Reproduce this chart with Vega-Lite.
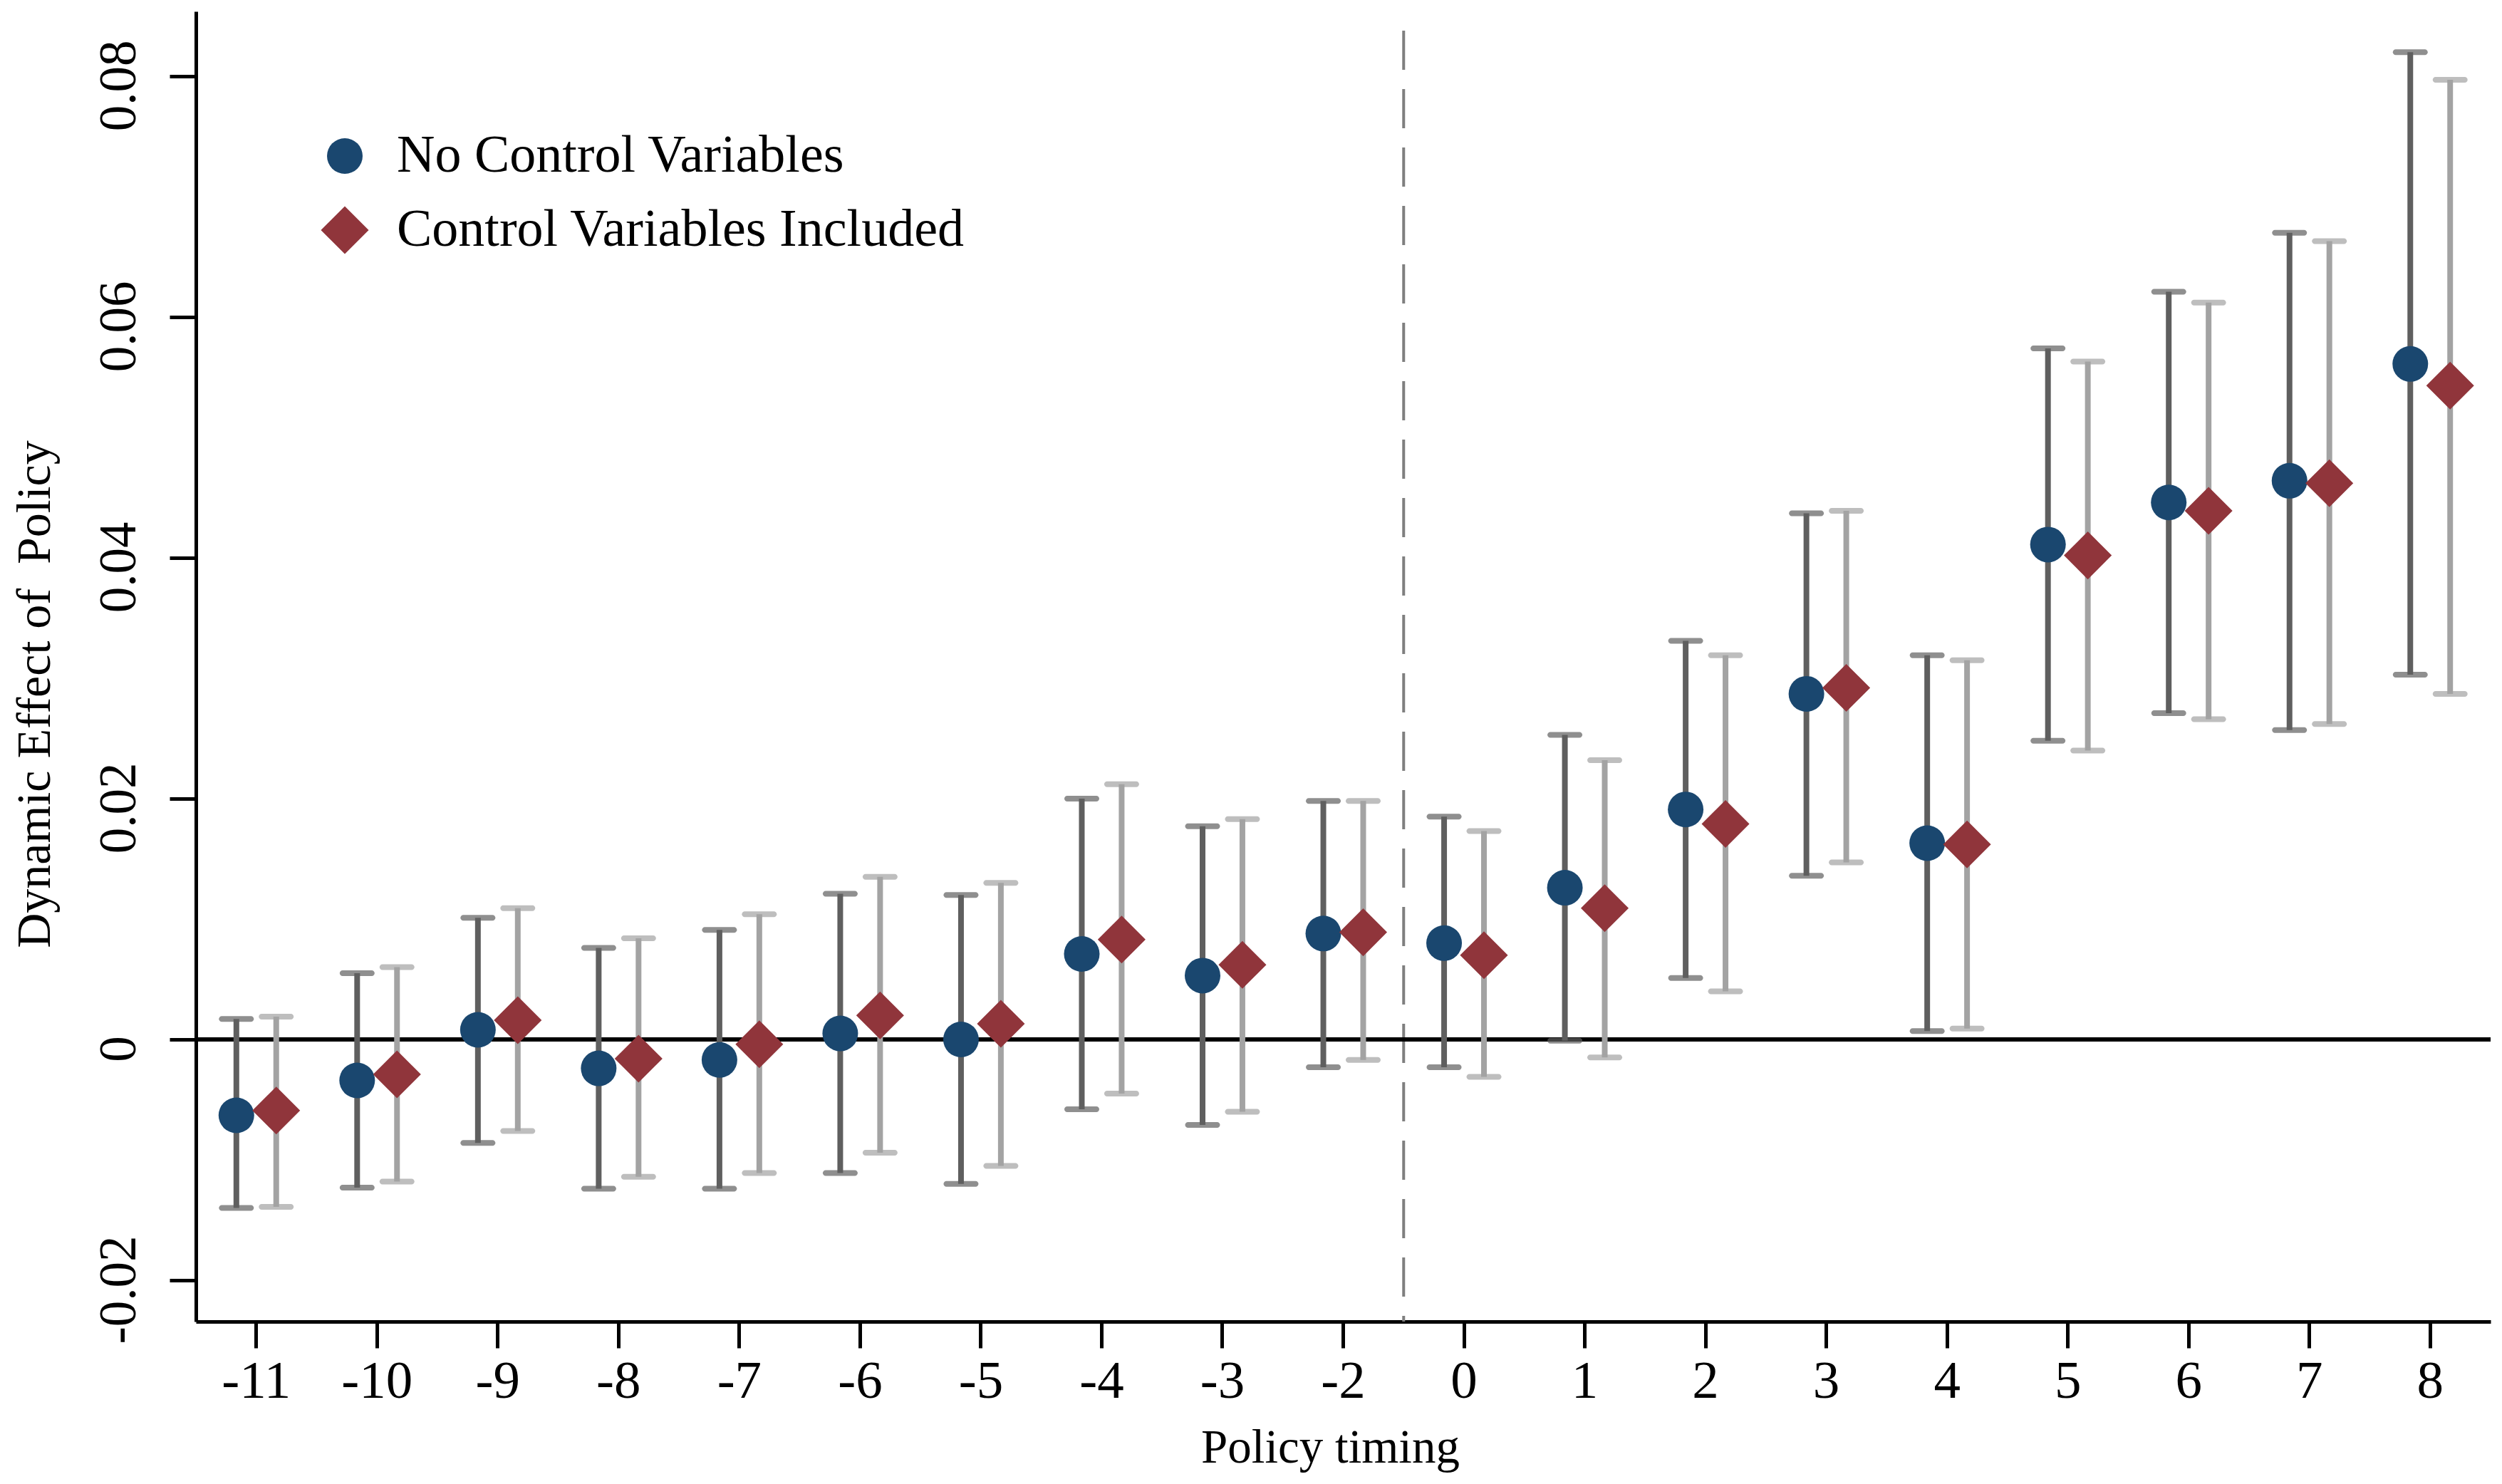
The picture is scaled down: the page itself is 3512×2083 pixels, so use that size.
{
  "$schema": "https://vega.github.io/schema/vega-lite/v6.json",
  "width": 3221,
  "height": 1839,
  "autosize": {"type": "none"},
  "padding": {"left": 275, "top": 16, "right": 16, "bottom": 228},
  "background": "white",
  "config": {
    "view": {"stroke": null},
    "axis": {"domainColor": "black", "tickColor": "black", "labelColor": "black", "titleColor": "black", "grid": false, "labelFont": "Liberation Serif", "titleFont": "Liberation Serif", "titleFontWeight": "normal", "domainWidth": 5, "tickWidth": 5},
    "legend": {"labelFont": "Liberation Serif", "labelFontSize": 74, "labelColor": "black", "labelLimit": 0, "padding": 0, "symbolStrokeWidth": 0, "rowPadding": 30, "labelOffset": 36}
  },
  "layer": [
    {
      "data": {"values": [{}]},
      "mark": {"type": "rule", "color": "#7f7f7f", "strokeWidth": 4, "strokeDash": [55, 27], "strokeDashOffset": 55},
      "encoding": {"x": {"datum": 0, "type": "ordinal", "bandPosition": 0}}
    },
    {
      "data": {"values": [{}]},
      "mark": {"type": "rule", "color": "black", "strokeWidth": 6},
      "encoding": {"y": {"datum": 0, "type": "quantitative"}}
    },
    {
      "data": {"values": [
        {"t": -11, "model": "No Control Variables", "est": -0.0063, "lo": -0.0140, "hi": 0.0017},
        {"t": -10, "model": "No Control Variables", "est": -0.0034, "lo": -0.0123, "hi": 0.0055},
        {"t": -9, "model": "No Control Variables", "est": 0.0008, "lo": -0.0086, "hi": 0.0101},
        {"t": -8, "model": "No Control Variables", "est": -0.0024, "lo": -0.0124, "hi": 0.0076},
        {"t": -7, "model": "No Control Variables", "est": -0.0017, "lo": -0.0124, "hi": 0.0091},
        {"t": -6, "model": "No Control Variables", "est": 0.0005, "lo": -0.0111, "hi": 0.0121},
        {"t": -5, "model": "No Control Variables", "est": 0.0000, "lo": -0.0120, "hi": 0.0120},
        {"t": -4, "model": "No Control Variables", "est": 0.0071, "lo": -0.0058, "hi": 0.0200},
        {"t": -3, "model": "No Control Variables", "est": 0.0053, "lo": -0.0071, "hi": 0.0177},
        {"t": -2, "model": "No Control Variables", "est": 0.0088, "lo": -0.0023, "hi": 0.0198},
        {"t": 0, "model": "No Control Variables", "est": 0.0080, "lo": -0.0023, "hi": 0.0185},
        {"t": 1, "model": "No Control Variables", "est": 0.0126, "lo": -0.0001, "hi": 0.0253},
        {"t": 2, "model": "No Control Variables", "est": 0.0191, "lo": 0.0051, "hi": 0.0331},
        {"t": 3, "model": "No Control Variables", "est": 0.0287, "lo": 0.0136, "hi": 0.0437},
        {"t": 4, "model": "No Control Variables", "est": 0.0163, "lo": 0.0007, "hi": 0.0319},
        {"t": 5, "model": "No Control Variables", "est": 0.0411, "lo": 0.0248, "hi": 0.0574},
        {"t": 6, "model": "No Control Variables", "est": 0.0446, "lo": 0.0271, "hi": 0.0621},
        {"t": 7, "model": "No Control Variables", "est": 0.0464, "lo": 0.0257, "hi": 0.0670},
        {"t": 8, "model": "No Control Variables", "est": 0.0561, "lo": 0.0303, "hi": 0.0820},
        {"t": -11, "model": "Control Variables Included", "est": -0.0059, "lo": -0.0139, "hi": 0.0019},
        {"t": -10, "model": "Control Variables Included", "est": -0.0029, "lo": -0.0118, "hi": 0.0060},
        {"t": -9, "model": "Control Variables Included", "est": 0.0016, "lo": -0.0076, "hi": 0.0109},
        {"t": -8, "model": "Control Variables Included", "est": -0.0016, "lo": -0.0114, "hi": 0.0084},
        {"t": -7, "model": "Control Variables Included", "est": -0.0004, "lo": -0.0111, "hi": 0.0104},
        {"t": -6, "model": "Control Variables Included", "est": 0.0020, "lo": -0.0094, "hi": 0.0135},
        {"t": -5, "model": "Control Variables Included", "est": 0.0013, "lo": -0.0105, "hi": 0.0130},
        {"t": -4, "model": "Control Variables Included", "est": 0.0083, "lo": -0.0045, "hi": 0.0212},
        {"t": -3, "model": "Control Variables Included", "est": 0.0062, "lo": -0.0060, "hi": 0.0183},
        {"t": -2, "model": "Control Variables Included", "est": 0.0089, "lo": -0.0017, "hi": 0.0198},
        {"t": 0, "model": "Control Variables Included", "est": 0.0070, "lo": -0.0031, "hi": 0.0173},
        {"t": 1, "model": "Control Variables Included", "est": 0.0109, "lo": -0.0015, "hi": 0.0232},
        {"t": 2, "model": "Control Variables Included", "est": 0.0179, "lo": 0.0040, "hi": 0.0319},
        {"t": 3, "model": "Control Variables Included", "est": 0.0292, "lo": 0.0147, "hi": 0.0439},
        {"t": 4, "model": "Control Variables Included", "est": 0.0162, "lo": 0.0009, "hi": 0.0315},
        {"t": 5, "model": "Control Variables Included", "est": 0.0402, "lo": 0.0240, "hi": 0.0563},
        {"t": 6, "model": "Control Variables Included", "est": 0.0439, "lo": 0.0266, "hi": 0.0612},
        {"t": 7, "model": "Control Variables Included", "est": 0.0462, "lo": 0.0262, "hi": 0.0663},
        {"t": 8, "model": "Control Variables Included", "est": 0.0543, "lo": 0.0287, "hi": 0.0797}
      ]},
      "encoding": {
        "x": {
          "field": "t", "type": "ordinal",
          "scale": {"type": "band", "domain": [-11, -10, -9, -8, -7, -6, -5, -4, -3, -2, 0, 1, 2, 3, 4, 5, 6, 7, 8], "paddingInner": 0, "paddingOuter": 0},
          "axis": {"title": "Policy timing", "labelAngle": 0, "labelAlign": "center", "labelFontSize": 75, "labelBaseline": "alphabetic", "labelPadding": 69, "tickSize": 37, "titleFontSize": 67, "titleX": 1592, "titleY": 197, "titleAlign": "center", "titleBaseline": "alphabetic", "labelOverlap": false}
        },
        "xOffset": {
          "field": "model", "type": "nominal",
          "scale": {"domain": ["No Control Variables", "Control Variables Included"], "paddingInner": 0, "paddingOuter": 0.515}
        }
      },
      "layer": [
        {
          "mark": {"type": "rule", "strokeWidth": 8},
          "encoding": {
            "y": {"field": "lo", "type": "quantitative", "scale": {"domain": [-0.02343, 0.08538], "nice": false, "zero": false},
              "axis": {"title": "Dynamic Effect of\u00a0 Policy", "values": [-0.02, 0, 0.02, 0.04, 0.06, 0.08], "labelExpr": "datum.value == 0 ? '0' : (datum.value < 0 ? '-' + format(-datum.value, '.2f') : format(datum.value, '.2f'))", "labelAngle": -90, "labelAlign": "center", "labelBaseline": "alphabetic", "labelFontSize": 73, "labelPadding": 49, "labelOffset": 13, "tickSize": 37, "labelFlush": false, "labelOverlap": false, "titleFontSize": 68, "titleAngle": 270, "titleX": -206, "titleY": 958, "titleAlign": "center", "titleBaseline": "alphabetic"}},
            "y2": {"field": "hi"},
            "color": {"condition": {"test": "datum.model === 'No Control Variables'", "value": "#5f5f5f"}, "value": "#a3a3a3"}
          }
        },
        {
          "mark": {"type": "tick", "size": 49, "thickness": 8, "cornerRadius": 4},
          "encoding": {
            "y": {"field": "lo", "type": "quantitative"},
            "color": {"condition": {"test": "datum.model === 'No Control Variables'", "value": "#5f5f5f"}, "value": "#a3a3a3"}
          }
        },
        {
          "mark": {"type": "tick", "size": 49, "thickness": 8, "cornerRadius": 4},
          "encoding": {
            "y": {"field": "hi", "type": "quantitative"},
            "color": {"condition": {"test": "datum.model === 'No Control Variables'", "value": "#5f5f5f"}, "value": "#a3a3a3"}
          }
        },
        {
          "mark": {"type": "point", "filled": true, "opacity": 1, "strokeWidth": 0},
          "encoding": {
            "y": {"field": "est", "type": "quantitative"},
            "color": {"field": "model", "type": "nominal", "title": null,
              "scale": {"domain": ["No Control Variables", "Control Variables Included"], "range": ["#1a476f", "#90353b"]},
              "legend": {"orient": "none", "legendX": 172, "legendY": 166}},
            "shape": {"field": "model", "type": "nominal", "title": null,
              "scale": {"domain": ["No Control Variables", "Control Variables Included"], "range": ["circle", "diamond"]},
              "legend": {"orient": "none", "legendX": 172, "legendY": 166}},
            "size": {"field": "model", "type": "nominal", "title": null,
              "scale": {"domain": ["No Control Variables", "Control Variables Included"], "range": [2500, 4500]},
              "legend": {"orient": "none", "legendX": 172, "legendY": 166}}
          }
        }
      ]
    }
  ]
}
